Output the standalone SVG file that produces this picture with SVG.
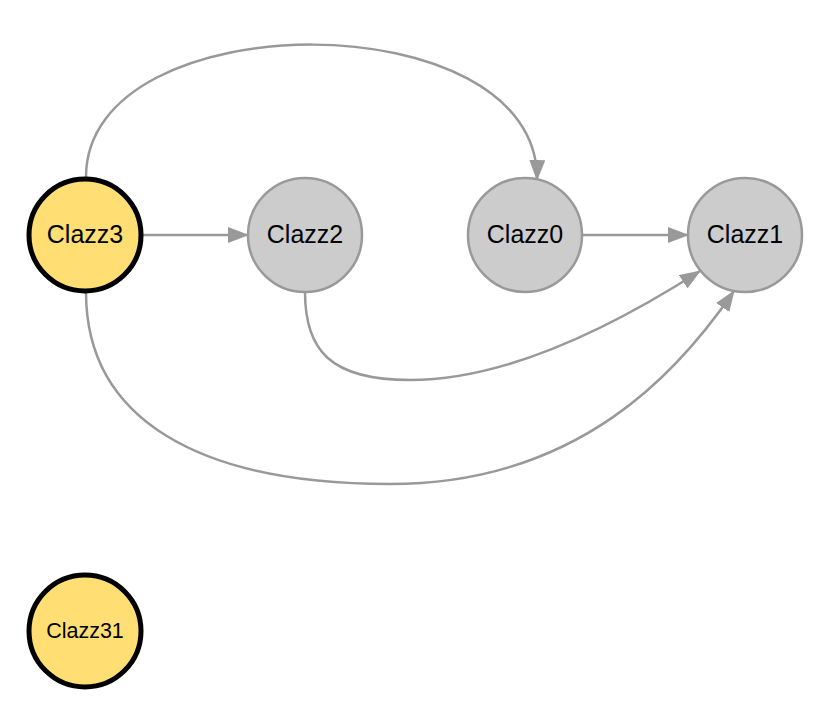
<svg xmlns="http://www.w3.org/2000/svg" width="830" height="718" viewBox="0 0 830 718">
<defs>
<style>
.edge{fill:none;stroke:#999999;stroke-width:2.5}
.gray{fill:#cccccc;stroke:#999999;stroke-width:2.5}
.main{fill:#ffdf73;stroke:#000000;stroke-width:5}
.lbl{font-family:"Liberation Sans",Arial,sans-serif;font-size:25px;fill:#000;text-anchor:middle}
.lbl2{font-family:"Liberation Sans",Arial,sans-serif;font-size:21.5px;fill:#000;text-anchor:middle}
</style>
<marker id="arr" viewBox="0 0 21 16" refX="20" refY="8" markerWidth="21" markerHeight="16" markerUnits="userSpaceOnUse" orient="auto">
<path d="M0,0 L21,8 L0,16 Z" fill="#999999"/>
</marker>
</defs>
<rect width="830" height="718" fill="#ffffff"/>
<g id="connectors">
<path class="edge" marker-end="url(#arr)" d="M143,235 L248,235"/>
<path class="edge" marker-end="url(#arr)" d="M583,235 L688,235"/>
<path class="edge" marker-end="url(#arr)" d="M86,177 C86,0 540,0 537,180"/>
<path class="edge" marker-end="url(#arr)" d="M305,292 C305,350 330,380 410,380 C500,380 600,335 700,271"/>
<path class="edge" marker-end="url(#arr)" d="M86,292 C86,420 200,484 390,484 C580,484 680,370 734,291"/>
</g>
<g id="Clazz3">
<circle class="main" cx="85" cy="235" r="56"/>
<text class="lbl" x="85" y="243">Clazz3</text>
</g>
<g id="Clazz2">
<circle class="gray" cx="305" cy="235" r="57"/>
<text class="lbl" x="305" y="243">Clazz2</text>
</g>
<g id="Clazz0">
<circle class="gray" cx="525" cy="235" r="57"/>
<text class="lbl" x="525" y="243">Clazz0</text>
</g>
<g id="Clazz1">
<circle class="gray" cx="745" cy="235" r="57"/>
<text class="lbl" x="745" y="243">Clazz1</text>
</g>
<g id="Clazz31">
<circle class="main" cx="85" cy="631" r="56"/>
<text class="lbl2" x="85" y="638">Clazz31</text>
</g>
</svg>
